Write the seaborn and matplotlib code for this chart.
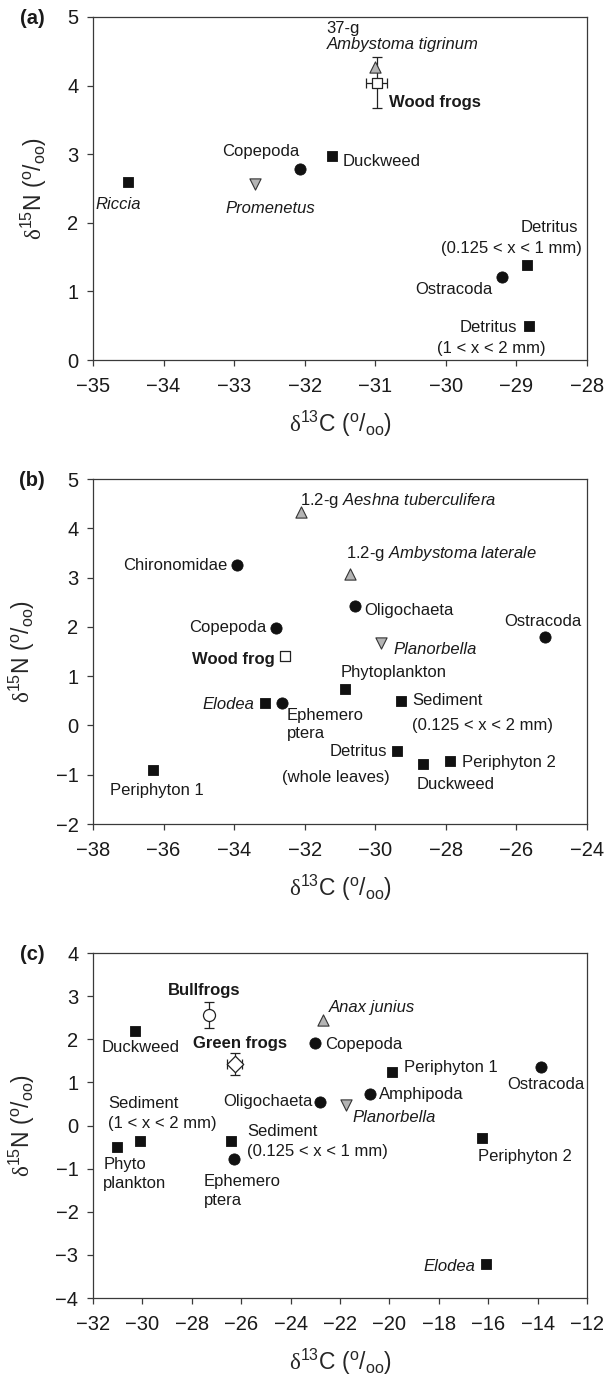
import matplotlib
matplotlib.use("Agg")
import matplotlib.pyplot as plt
import seaborn as sns
import pandas as pd

# ---------------- data ----------------
# panel (a)
a_names = ["Riccia", "Promenetus", "Copepoda", "Duckweed", "Ambystoma tigrinum",
           "Wood frogs", "Ostracoda", "Detritus fine", "Detritus coarse"]
a_x = [-34.50, -32.70, -32.07, -31.62, -31.01, -30.98, -29.20, -28.85, -28.82]
a_y = [2.59, 2.56, 2.79, 2.98, 4.27, 4.04, 1.21, 1.38, 0.49]
a_kind = ["square", "down", "circle", "square", "up", "frog_sq", "circle", "square", "square"]
a_xerr = [0, 0, 0, 0, 0, 0.15, 0, 0, 0]
a_yerr = [0, 0, 0, 0, 0, 0.37, 0, 0, 0]

# panel (b)
b_names = ["Aeshna tuberculifera", "Ambystoma laterale", "Chironomidae", "Oligochaeta",
           "Copepoda", "Ostracoda", "Planorbella", "Wood frog", "Phytoplankton",
           "Elodea", "Ephemeroptera", "Sediment", "Detritus", "Duckweed",
           "Periphyton 2", "Periphyton 1"]
b_x = [-32.10, -30.71, -33.92, -30.58, -32.82, -25.19, -29.85, -32.55, -30.87,
       -33.12, -32.63, -29.28, -29.39, -28.66, -27.89, -36.30]
b_y = [4.33, 3.08, 3.25, 2.43, 1.97, 1.79, 1.67, 1.40, 0.74,
       0.45, 0.46, 0.50, -0.51, -0.79, -0.72, -0.91]
b_kind = ["up", "up", "circle", "circle", "circle", "circle", "down", "frog_sq", "square",
          "square", "circle", "square", "square", "square", "square", "square"]
b_xerr = [0] * 16
b_yerr = [0] * 16

# panel (c)
c_names = ["Bullfrogs", "Green frogs", "Anax junius", "Duckweed", "Copepoda",
           "Periphyton 1", "Ostracoda", "Amphipoda", "Oligochaeta", "Planorbella",
           "Phytoplankton", "Sediment coarse", "Sediment fine", "Ephemeroptera",
           "Periphyton 2", "Elodea"]
c_x = [-27.30, -26.27, -22.68, -30.30, -23.00, -19.90, -13.85, -20.80, -22.79, -21.77,
       -31.01, -30.11, -26.41, -26.30, -16.24, -16.07]
c_y = [2.57, 1.43, 2.44, 2.18, 1.91, 1.24, 1.36, 0.72, 0.54, 0.47,
       -0.49, -0.35, -0.37, -0.78, -0.28, -3.22]
c_kind = ["frog_o", "frog_d", "up", "square", "circle", "square", "circle", "circle",
          "circle", "down", "square", "square", "square", "circle", "square", "square"]
c_xerr = [0, 0.32] + [0] * 14
c_yerr = [0.30, 0.26] + [0] * 14

# axis settings
a_xlim, a_ylim = (-35, -28), (0, 5)
b_xlim, b_ylim = (-38, -24), (-2, 5)
c_xlim, c_ylim = (-32, -12), (-4, 4)
a_xticks, a_yticks = list(range(-35, -27)), list(range(0, 6))
b_xticks, b_yticks = list(range(-38, -23, 2)), list(range(-2, 6))
c_xticks, c_yticks = list(range(-32, -11, 2)), list(range(-4, 5))

# text labels: (text, x, y, ha, style, weight)
a_labels = [
    ("37-g", -31.69, 4.83, "left", "normal", "normal"),
    ("Ambystoma tigrinum", -31.69, 4.60, "left", "italic", "normal"),
    ("Wood frogs", -30.81, 3.75, "left", "normal", "bold"),
    ("Copepoda", -32.63, 3.04, "center", "normal", "normal"),
    ("Duckweed", -31.46, 2.89, "left", "normal", "normal"),
    ("Riccia", -34.64, 2.27, "center", "italic", "normal"),
    ("Promenetus", -32.49, 2.21, "center", "italic", "normal"),
    ("Detritus", -28.13, 1.93, "right", "normal", "normal"),
    ("(0.125 < x < 1 mm)", -28.07, 1.63, "right", "normal", "normal"),
    ("Ostracoda", -29.89, 1.03, "center", "normal", "normal"),
    ("Detritus", -28.99, 0.47, "right", "normal", "normal"),
    ("(1 < x < 2 mm)", -29.36, 0.17, "center", "normal", "normal"),
]
b_labels = [
    (r"1.2-g $\mathit{Aeshna\ tuberculifera}$", -32.13, 4.57, "left", "normal", "normal"),
    (r"1.2-g $\mathit{Ambystoma\ laterale}$", -30.84, 3.49, "left", "normal", "normal"),
    ("Chironomidae", -34.20, 3.25, "right", "normal", "normal"),
    ("Oligochaeta", -30.32, 2.33, "left", "normal", "normal"),
    ("Copepoda", -33.09, 1.99, "right", "normal", "normal"),
    ("Ostracoda", -25.25, 2.11, "center", "normal", "normal"),
    ("Planorbella", -29.48, 1.54, "left", "italic", "normal"),
    ("Wood frog", -32.86, 1.34, "right", "normal", "bold"),
    ("Phytoplankton", -30.97, 1.07, "left", "normal", "normal"),
    ("Elodea", -33.43, 0.42, "right", "italic", "normal"),
    ("Ephemero", -32.50, 0.21, "left", "normal", "normal"),
    ("ptera", -32.50, -0.17, "left", "normal", "normal"),
    ("Sediment", -28.95, 0.50, "left", "normal", "normal"),
    ("(0.125 < x < 2 mm)", -28.95, 0.00, "left", "normal", "normal"),
    ("Detritus", -29.67, -0.52, "right", "normal", "normal"),
    ("(whole leaves)", -31.11, -1.05, "center", "normal", "normal"),
    ("Periphyton 2", -27.53, -0.76, "left", "normal", "normal"),
    ("Duckweed", -28.84, -1.19, "left", "normal", "normal"),
    ("Periphyton 1", -36.19, -1.32, "center", "normal", "normal"),
]
c_labels = [
    ("Bullfrogs", -27.50, 3.13, "center", "normal", "bold"),
    ("Anax junius", -22.45, 2.73, "left", "italic", "normal"),
    ("Duckweed", -30.07, 1.82, "center", "normal", "normal"),
    ("Green frogs", -26.03, 1.91, "center", "normal", "bold"),
    ("Copepoda", -22.60, 1.87, "left", "normal", "normal"),
    ("Periphyton 1", -19.42, 1.34, "left", "normal", "normal"),
    ("Ostracoda", -13.68, 0.96, "center", "normal", "normal"),
    ("Amphipoda", -20.41, 0.71, "left", "normal", "normal"),
    ("Oligochaeta", -23.12, 0.56, "right", "normal", "normal"),
    ("Planorbella", -21.50, 0.18, "left", "italic", "normal"),
    ("Sediment", -31.37, 0.52, "left", "normal", "normal"),
    ("(1 < x < 2 mm)", -31.40, 0.04, "left", "normal", "normal"),
    ("Sediment", -25.75, -0.13, "left", "normal", "normal"),
    ("(0.125 < x < 1 mm)", -25.75, -0.61, "left", "normal", "normal"),
    ("Periphyton 2", -16.40, -0.71, "left", "normal", "normal"),
    ("Phyto", -31.59, -0.91, "left", "normal", "normal"),
    ("plankton", -31.59, -1.35, "left", "normal", "normal"),
    ("Ephemero", -27.52, -1.31, "left", "normal", "normal"),
    ("ptera", -27.52, -1.74, "left", "normal", "normal"),
    ("Elodea", -16.50, -3.26, "right", "italic", "normal"),
]

# ---------------- style ----------------
sns.set_theme(style="ticks")
INK = "#1a1a1a"
SPINE = "#3a3a3a"
plt.rcParams.update({
    "font.family": ["Liberation Sans", "DejaVu Sans"],
    "mathtext.fontset": "custom",
    "mathtext.rm": "Liberation Serif",
    "mathtext.sf": "Liberation Sans",
    "mathtext.it": "Liberation Sans:italic",
    "mathtext.bf": "Liberation Sans:bold",
    "axes.edgecolor": SPINE,
    "axes.linewidth": 0.9,
    "xtick.color": SPINE,
    "ytick.color": SPINE,
    "xtick.labelcolor": INK,
    "ytick.labelcolor": INK,
    "xtick.major.size": 4.5,
    "ytick.major.size": 4.5,
    "xtick.major.width": 0.9,
    "ytick.major.width": 0.9,
    "xtick.major.pad": 8,
    "ytick.major.pad": 6,
    "text.color": INK,
})

XLABEL = r"$\mathrm{\delta}^{\mathsf{13}}\mathsf{C\ (}^{\mathsf{o}}\mathsf{/}_{\mathsf{oo}}\mathsf{)}$"
YLABEL = r"$\mathrm{\delta}^{\mathsf{15}}\mathsf{N\ (}^{\mathsf{o}}\mathsf{/}_{\mathsf{oo}}\mathsf{)}$"

KIND_STYLE = {
    "square": dict(marker="s", s=55, color="#111111", edgecolor="#111111", linewidth=0.6),
    "circle": dict(marker="o", s=65, color="#111111", edgecolor="#111111", linewidth=0.6),
    "up": dict(marker="^", s=65, color="#b4b4b4", edgecolor="#333333", linewidth=0.8),
    "down": dict(marker="v", s=65, color="#b4b4b4", edgecolor="#333333", linewidth=0.8),
    "frog_sq": dict(marker="s", s=55, color="white", edgecolor="#222222", linewidth=0.9),
    "frog_o": dict(marker="o", s=75, color="white", edgecolor="#222222", linewidth=0.9),
    "frog_d": dict(marker="D", s=70, color="white", edgecolor="#222222", linewidth=0.9),
}

fig = plt.figure(figsize=(6.07, 13.77), dpi=100)
W = 607.0
H = 1377.0
L, R = 93, 587
boxes = [(17, 360), (479, 824), (953, 1298)]

panels = [
    ("(a)", a_names, a_x, a_y, a_kind, a_xerr, a_yerr, a_xlim, a_ylim, a_xticks, a_yticks, a_labels),
    ("(b)", b_names, b_x, b_y, b_kind, b_xerr, b_yerr, b_xlim, b_ylim, b_xticks, b_yticks, b_labels),
    ("(c)", c_names, c_x, c_y, c_kind, c_xerr, c_yerr, c_xlim, c_ylim, c_xticks, c_yticks, c_labels),
]

for (tag, names, xs, ys, kinds, xerr, yerr, xlim, ylim, xt, yt, labels), (top, bot) in zip(panels, boxes):
    ax = fig.add_axes([L / W, 1 - bot / H, (R - L) / W, (bot - top) / H])
    df = pd.DataFrame({"name": names, "x": xs, "y": ys, "kind": kinds,
                       "xerr": xerr, "yerr": yerr})
    # error bars for frog means
    err = df[(df.xerr > 0) | (df.yerr > 0)]
    for _, r in err.iterrows():
        ax.errorbar(r.x, r.y, xerr=r.xerr if r.xerr > 0 else None,
                    yerr=r.yerr if r.yerr > 0 else None, fmt="none",
                    ecolor="#222222", elinewidth=0.9, capsize=3.6, capthick=0.9, zorder=2)
    for kind, sub in df.groupby("kind", sort=False):
        sns.scatterplot(data=sub, x="x", y="y", ax=ax, legend=False, zorder=3,
                        **KIND_STYLE[kind])
    for (txt, tx, ty, ha, st, wt) in labels:
        ax.text(tx, ty, txt, ha=ha, va="center", fontsize=12, fontstyle=st,
                fontweight=wt, color=INK)
    ax.set_xlim(*xlim)
    ax.set_ylim(*ylim)
    ax.set_xticks(xt)
    ax.set_yticks(yt)
    ax.tick_params(axis="both", labelsize=14.5, direction="out")
    ax.set_xlabel(XLABEL, fontsize=16.5, labelpad=9)
    ax.set_ylabel(YLABEL, fontsize=16.5, labelpad=13)
    for sp in ax.spines.values():
        sp.set_visible(True)
    fig.text(32 / W, 1 - (top + 1) / H, tag, ha="center", va="center",
             fontsize=14.5, fontweight="bold", color=INK)

fig.savefig("out.png", dpi=100)
